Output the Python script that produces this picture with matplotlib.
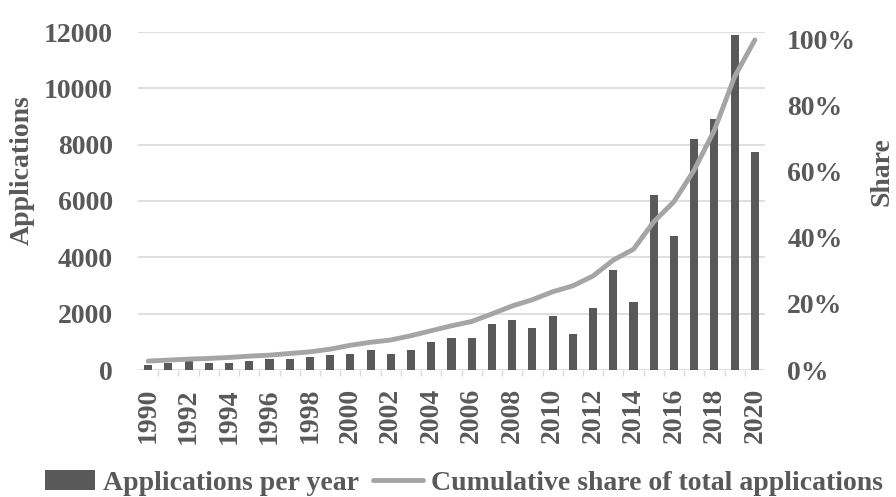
import numpy as np
import matplotlib
matplotlib.use("Agg")
import matplotlib.pyplot as plt
from matplotlib.ticker import FixedLocator, PercentFormatter

BAR = "#595959"
LINE = "#a5a5a5"
GRID = "#d9d9d9"
TEXT = "#595959"

years = list(range(1990, 2021))
applications = [170, 240, 310, 240, 240, 310, 385, 385, 455, 530,
                580, 720, 580, 720, 1010, 1150, 1150, 1640, 1790, 1500,
                1920, 1280, 2200, 3550, 2400, 6200, 4760, 8200, 8900, 11900,
                7750]
cum_share = [2.7, 3.0, 3.3, 3.5, 3.8, 4.2, 4.5, 5.0, 5.5, 6.3,
             7.5, 8.4, 9.1, 10.4, 11.9, 13.4, 14.7, 17.0, 19.4, 21.3,
             23.7, 25.5, 28.5, 33.3, 36.6, 44.9, 51.0, 60.6, 72.7, 88.9,
             100.0]
left_ticks = [0, 2000, 4000, 6000, 8000, 10000, 12000]
right_ticks = [0, 20, 40, 60, 80, 100]

plt.rcParams.update(
    {
        "font.family": ["Liberation Serif", "DejaVu Serif"],
        "font.weight": "bold",
        "font.size": 20,
        "text.color": TEXT,
        "axes.labelcolor": TEXT,
        "xtick.color": TEXT,
        "ytick.color": TEXT,
        "axes.labelweight": "bold",
    }
)

fig = plt.figure(figsize=(8.96, 4.97), dpi=100)
ax = fig.add_axes([138 / 896, 1 - 370 / 497, (765 - 138) / 896, (370 - 32) / 497])
x = np.arange(len(years))

ax.bar(x, applications, width=0.4, color=BAR, zorder=2, label="Applications per year")
ax.set_xlim(-0.5, len(years) - 0.5)
ax.set_ylim(0, 12000)
ax.yaxis.set_major_locator(FixedLocator(left_ticks))
ax.grid(axis="y", color=GRID, lw=1.2, zorder=0)
ax.set_axisbelow(True)
for s in ax.spines.values():
    s.set_visible(False)

ax.set_xticks(x[::2])
ax.set_xticklabels([str(y) for y in years[::2]], rotation=90)
ax.set_xticks(x[:-1] + 0.5, minor=True)
ax.tick_params(axis="x", which="major", length=0, pad=13)
ax.tick_params(axis="x", which="minor", length=4, color=GRID, width=1)
ax.tick_params(axis="y", length=0, pad=18)

ax2 = ax.twinx()
ax2.plot(x, cum_share, color=LINE, lw=3.5, solid_capstyle="round", zorder=3,
         label="Cumulative share of total applications")
ax2.set_ylim(0, 102.4)
ax2.yaxis.set_major_locator(FixedLocator(right_ticks))
ax2.yaxis.set_major_formatter(PercentFormatter(decimals=0))
ax2.tick_params(axis="y", length=0, pad=16)
for s in ax2.spines.values():
    s.set_visible(False)

# axis titles placed by hand, as in the source chart
fig.text(22 / 896, 1 - 170 / 497, "Applications", rotation=90, ha="center", va="center")
fig.text(882 / 896, 1 - 172 / 497, "Share", rotation=90, ha="center", va="center")

h1, l1 = ax.get_legend_handles_labels()
h2, l2 = ax2.get_legend_handles_labels()
fig.legend(h1 + h2, l1 + l2, loc="center", bbox_to_anchor=(464 / 896, 1 - 483 / 497),
           ncol=2, frameon=False, handlelength=1.8, handletextpad=0.3,
           columnspacing=0.5, borderpad=0)

fig.savefig("out.png", dpi=100)
